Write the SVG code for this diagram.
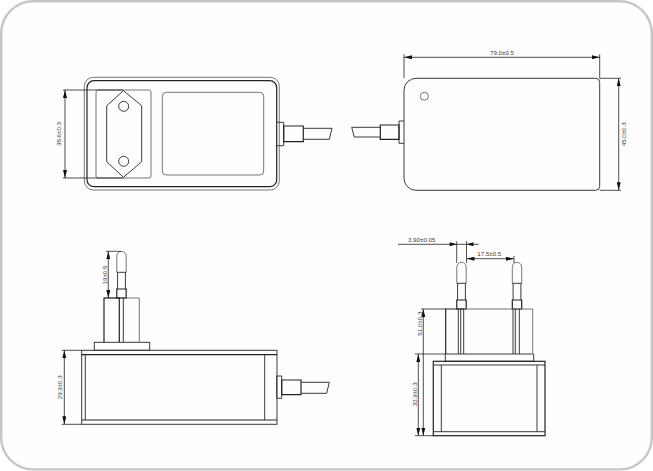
<svg xmlns="http://www.w3.org/2000/svg" width="653" height="471" viewBox="0 0 653 471">
<style>
.o{fill:none;stroke:#3a3a3a;stroke-width:1}
.h{fill:none;stroke:#222;stroke-width:1.2}
.t{fill:none;stroke:#666;stroke-width:.9}
.d{fill:none;stroke:#222;stroke-width:.8}
.a{fill:none;stroke:#222;stroke-width:.8;marker-start:url(#ar);marker-end:url(#ar)}
text{font-family:"Liberation Sans",Arial,sans-serif;font-size:6.2px;fill:#3c3c3c;text-anchor:middle}
</style>
<defs>
<marker id="ar" viewBox="0 0 8 4" refX="8" refY="2" markerWidth="8" markerHeight="4" markerUnits="userSpaceOnUse" orient="auto-start-reverse"><path d="M0 0L8 2L0 4Z" fill="#111"/></marker>
<g id="pin"><path class="t" d="M-4.7 21V5A4.7 5 0 0 1 4.7 5V21"/><path class="o" d="M-4.7 21H4.7M-3.9 21V37.700M3.900 21V37.700"/><path class="h" d="M-4.7 37.700H4.700V46.700H-4.700Z"/></g>
</defs>
<rect id="frame" x="1.200" y="1.200" width="650.600" height="468.200" rx="32" ry="32" fill="#fefefe" stroke="#c6c6c6" stroke-width="2.400"/>
<g id="front-view">
<rect class="t" x="84.300" y="77.300" width="195" height="112.700" rx="9"/>
<rect class="h" x="87" y="80.700" width="189.700" height="106" rx="7"/>
<rect class="t" x="96" y="90" width="55" height="88" rx="2"/>
<rect class="t" x="162.300" y="92.300" width="101.400" height="82.700" rx="4"/>
<path class="o" d="M123.500 90.700L141.700 105.700V161.700L123.500 177.300L106.700 161.700V105.700Z"/>
<circle class="o" cx="123.700" cy="106.300" r="5"/>
<circle class="o" cx="123.700" cy="161.300" r="5"/>
<path class="o" d="M276.700 122.300H283.700V145.700H276.700"/>
<path class="h" d="M283.700 126H303.300V141.700H283.700Z"/>
<path class="o" d="M303.300 128.300H332L329.300 139.300H303.300"/>
</g>
<g id="back-view">
<path class="o" d="M416 78.300H595.700Q599.700 78.300 599.700 82.300V186.300Q599.700 190.300 595.700 190.300H416A12 12 0 0 1 404 178.300V90.300A12 12 0 0 1 416 78.300Z"/>
<circle class="t" cx="424.300" cy="96.300" r="4"/>
<path class="o" d="M404 121H399V143.300H404"/>
<path class="h" d="M399 125H380.300V139.300H399Z"/>
<path class="o" d="M380.300 127.300H351.700L354.300 137H380.300"/>
</g>
<g id="side-view">
<rect class="o" x="81.700" y="350.300" width="195.300" height="74"/>
<path class="h" d="M81.700 354.700H277M81.700 420H277"/>
<path class="o" d="M85.300 354.700V420M264.700 354.700V420"/>
<rect class="o" x="94.300" y="342.300" width="55.400" height="8"/>
<path class="t" d="M104 298H139.300V342.300"/>
<path class="h" d="M104 342.300V298H119.300V342.300"/>
<path class="o" d="M123.300 298V342.300"/>
<use href="#pin" x="121.500" y="251.300"/>
<path class="o" d="M276.700 376H281.700V398.300H276.700Z"/>
<path class="h" d="M281.700 380H301V394.700H281.700Z"/>
<path class="o" d="M301 382.300H329.300L326.700 393.300H301"/>
</g>
<g id="end-view">
<use href="#pin" x="461.500" y="262.300"/>
<use href="#pin" x="517" y="262.300"/>
<path class="t" d="M464 309H532.700V353.300"/>
<path class="h" d="M464 309H445.700V354"/>
<path class="o" d="M458.300 309V354M460.700 309V354M463.700 309V354M513 309V354M515.300 309V354M519.300 309V354"/>
<path class="o" d="M445.300 354H533.700V361.300H445.300Z"/>
<rect class="h" x="433.300" y="361.300" width="111.700" height="74.400"/>
<path class="o" d="M433.300 365H545M433.300 431.700H545M441.300 365V431.700M537 365V431.700"/>
</g>
<g id="connectors">
<path class="d" d="M63 90H123M63 178H123"/>
<path class="a" d="M65 90V178"/>
<path class="d" d="M404 54.300V78.300M599.700 54.300V78.300"/>
<path class="a" d="M404 57.300H599.700"/>
<path class="d" d="M599.700 78.300H621M599.700 190.300H621"/>
<path class="a" d="M618.700 78.300V190.300"/>
<path class="d" d="M106 251.300H121"/>
<path class="a" d="M108.300 251.300V298"/>
<path class="d" d="M61.700 350.300H81.700M61.700 424.300H81.700"/>
<path class="a" d="M64.300 350.300V424.300"/>
<path class="d" d="M398 244.300H478.700M456.700 241.300V263M466.500 241.300V263M514 256V263"/>
<path fill="#111" d="M456.700 244.300L449.700 242.300V246.300ZM466.500 244.300L473.500 242.300V246.300Z"/>
<path class="a" d="M466.500 258.700H514"/>
<path class="d" d="M421 309H446M415 354H445.300M415 435.700H433.300"/>
<path class="a" d="M423.300 309V435.700"/>
<path class="a" d="M418.300 354V435.700"/>
</g>
<g id="labels">
<text transform="translate(60.700 134) rotate(-90)">35.6±0.3</text>
<text x="502" y="54.500">79.0±0.5</text>
<text transform="translate(626.300 134.300) rotate(-90)">45.0±0.3</text>
<text transform="translate(106.500 275) rotate(-90)">19±0.5</text>
<text transform="translate(62 387.300) rotate(-90)">29.9±0.3</text>
<text x="421.700" y="241.500">3.90±0.05</text>
<text x="489.300" y="256">17.5±0.5</text>
<text transform="translate(421.500 323.700) rotate(-90)">51.0±0.3</text>
<text transform="translate(416.500 394.300) rotate(-90)">32.9±0.3</text>
</g>
</svg>
